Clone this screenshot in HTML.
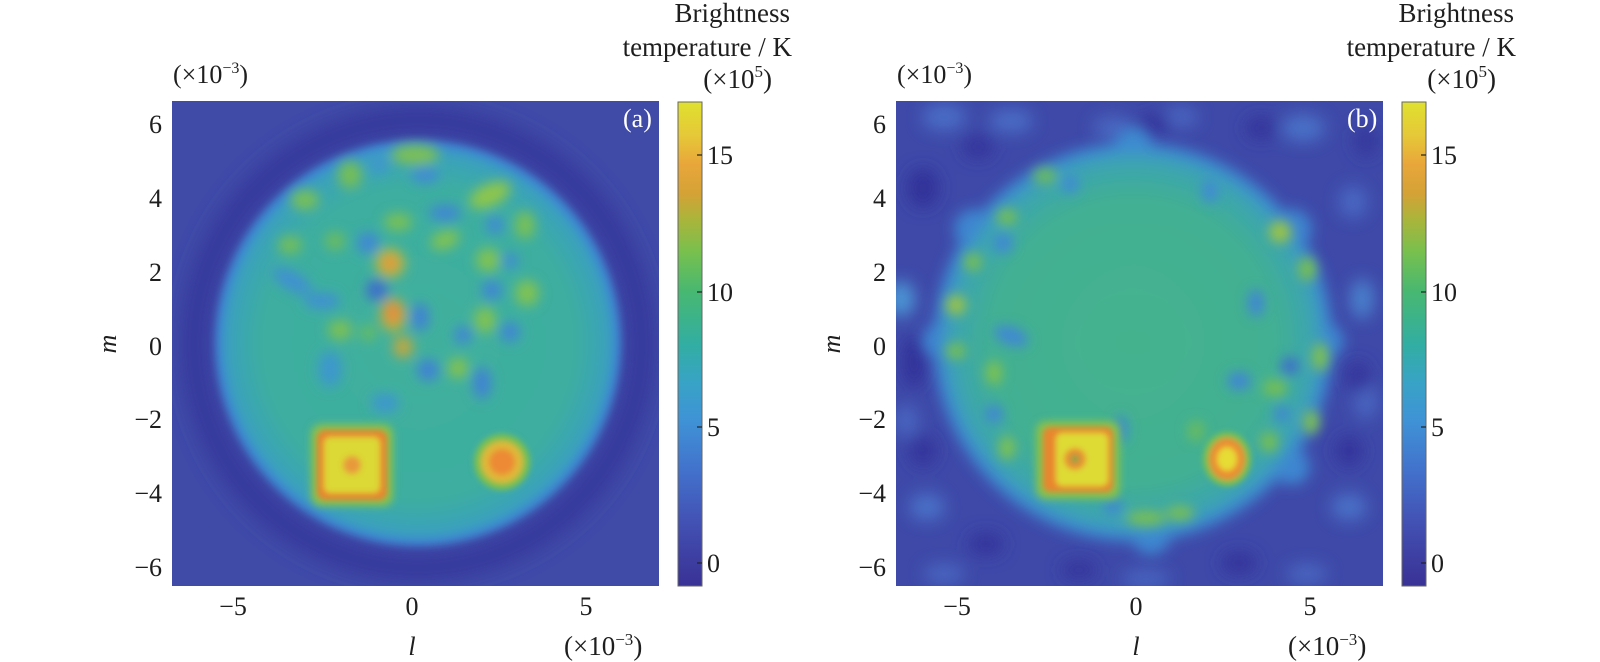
<!DOCTYPE html>
<html><head><meta charset="utf-8"><style>
html,body{margin:0;padding:0;background:#fff;}
svg{display:block;}
text{font-family:"Liberation Serif","Times New Roman",serif;fill:#1e1e1e;}
</style></head><body>
<svg width="1600" height="662" viewBox="0 0 1600 662" xmlns="http://www.w3.org/2000/svg">
<defs>
 <filter id="b3" filterUnits="userSpaceOnUse" x="-150" y="-150" width="800" height="800"><feGaussianBlur stdDeviation="3"/></filter>
 <filter id="b4" filterUnits="userSpaceOnUse" x="-150" y="-150" width="800" height="800"><feGaussianBlur stdDeviation="4"/></filter>
 <filter id="b6" filterUnits="userSpaceOnUse" x="-150" y="-150" width="800" height="800"><feGaussianBlur stdDeviation="6"/></filter>
 <filter id="b7" filterUnits="userSpaceOnUse" x="-150" y="-150" width="800" height="800"><feGaussianBlur stdDeviation="7"/></filter>
 <filter id="b8" filterUnits="userSpaceOnUse" x="-150" y="-150" width="800" height="800"><feGaussianBlur stdDeviation="8"/></filter>
 <filter id="b10" filterUnits="userSpaceOnUse" x="-150" y="-150" width="800" height="800"><feGaussianBlur stdDeviation="10"/></filter>
 <clipPath id="clipImg"><rect x="0" y="0" width="487" height="485"/></clipPath>
 <linearGradient id="cb" x1="0" y1="0" x2="0" y2="1">
  <stop offset="0" stop-color="#dfe12f"/>
  <stop offset="0.07" stop-color="#e6c838"/>
  <stop offset="0.13" stop-color="#e8a63a"/>
  <stop offset="0.19" stop-color="#d4a236"/>
  <stop offset="0.24" stop-color="#acb43a"/>
  <stop offset="0.31" stop-color="#78c04e"/>
  <stop offset="0.39" stop-color="#48b870"/>
  <stop offset="0.50" stop-color="#32aea2"/>
  <stop offset="0.58" stop-color="#38a3c6"/>
  <stop offset="0.66" stop-color="#3f92d6"/>
  <stop offset="0.76" stop-color="#4272cc"/>
  <stop offset="0.86" stop-color="#4354b6"/>
  <stop offset="0.94" stop-color="#3e3fa2"/>
  <stop offset="1" stop-color="#393296"/>
 </linearGradient>
 <radialGradient id="diskA" cx="0.5" cy="0.5" r="0.5">
  <stop offset="0" stop-color="#40b09c"/>
  <stop offset="0.8" stop-color="#3daea0"/>
  <stop offset="0.93" stop-color="#3aa5b4"/>
  <stop offset="1" stop-color="#3a9cc4"/>
 </radialGradient>
 <radialGradient id="diskB" cx="0.5" cy="0.5" r="0.5">
  <stop offset="0" stop-color="#45b28e"/>
  <stop offset="0.75" stop-color="#42b092"/>
  <stop offset="0.92" stop-color="#3ca6ac"/>
  <stop offset="1" stop-color="#3b9cc2"/>
 </radialGradient>
</defs>
<rect width="1600" height="662" fill="#fff"/>

<!-- ================= PANEL A ================= -->
<g transform="translate(172,101)">
 <g clip-path="url(#clipImg)">
  <rect x="0" y="0" width="487" height="485" fill="#404ba8"/>
  <g filter="url(#b10)">
   <circle cx="246" cy="243" r="224" fill="none" stroke="#36379b" stroke-width="26"/>
  </g>
  <g filter="url(#b4)">
   <circle cx="246" cy="242" r="203" fill="#3c86d0"/>
   <circle cx="246" cy="242" r="195" fill="url(#diskA)"/>
  </g>
  <g filter="url(#b6)">
   <ellipse cx="243" cy="54" rx="24" ry="10" fill="#7dc054"/>
   <ellipse cx="178" cy="74" rx="12" ry="14" fill="#74be58"/>
   <ellipse cx="133" cy="99" rx="14" ry="10" fill="#78c056"/>
   <ellipse cx="318" cy="94" rx="22" ry="11" fill="#8ec64c" transform="rotate(-25 318 94)"/>
   <ellipse cx="353" cy="124" rx="10" ry="14" fill="#78c056"/>
   <ellipse cx="226" cy="121" rx="14" ry="9" fill="#78c056"/>
   <ellipse cx="273" cy="139" rx="15" ry="9" fill="#80c252" transform="rotate(-20 273 139)"/>
   <ellipse cx="118" cy="144" rx="12" ry="9" fill="#72be5a"/>
   <ellipse cx="163" cy="140" rx="10" ry="9" fill="#6cbc5e"/>
   <ellipse cx="316" cy="159" rx="12" ry="12" fill="#80c252"/>
   <ellipse cx="355" cy="192" rx="12" ry="13" fill="#80c252"/>
   <ellipse cx="168" cy="229" rx="12" ry="10" fill="#7cc054"/>
   <ellipse cx="313" cy="219" rx="11" ry="13" fill="#80c252"/>
   <ellipse cx="286" cy="267" rx="10" ry="10" fill="#84c250"/>
   <ellipse cx="196" cy="232" rx="8" ry="8" fill="#68bc60"/>
   <circle cx="218" cy="162" r="15" fill="#a6c040"/>
   <circle cx="218" cy="162" r="10" fill="#e09a3c"/>
   <ellipse cx="221" cy="214" rx="13" ry="17" fill="#b0b83c"/>
   <ellipse cx="221" cy="212" rx="9" ry="12" fill="#e58c3c"/>
   <ellipse cx="231" cy="246" rx="10" ry="11" fill="#c0a840"/>
   <circle cx="196" cy="142" r="11" fill="#3f88d4"/>
   <circle cx="205" cy="189" r="11" fill="#3c6ecb"/>
   <ellipse cx="248" cy="216" rx="9" ry="14" fill="#3f82d4"/>
   <circle cx="256" cy="269" r="11" fill="#3f82d4"/>
   <ellipse cx="310" cy="282" rx="9" ry="16" fill="#3f82d4"/>
   <circle cx="320" cy="189" r="10" fill="#3f86d4"/>
   <circle cx="291" cy="234" r="9" fill="#3f86d4"/>
   <ellipse cx="273" cy="112" rx="16" ry="8" fill="#3f86d4"/>
   <ellipse cx="253" cy="74" rx="14" ry="8" fill="#3f8ad4"/>
   <ellipse cx="207" cy="63" rx="9" ry="10" fill="#3f97cc"/>
   <ellipse cx="120" cy="180" rx="22" ry="9" fill="#3f90d2" transform="rotate(30 120 180)"/>
   <ellipse cx="150" cy="200" rx="18" ry="8" fill="#3f90d2"/>
   <ellipse cx="158" cy="268" rx="12" ry="18" fill="#3e98cc"/>
   <ellipse cx="213" cy="302" rx="14" ry="10" fill="#3e98cc"/>
   <circle cx="338" cy="231" r="10" fill="#3f86d4"/>
   <circle cx="338" cy="160" r="8" fill="#3f8ad4"/>
   <circle cx="323" cy="124" r="9" fill="#3f8ad4"/>
  </g>
  <g filter="url(#b4)">
   <rect x="139" y="323" width="82" height="82" rx="10" fill="#86c24e"/>
  </g>
  <g filter="url(#b3)">
   <rect x="145" y="329" width="70" height="70" rx="8" fill="#e8842e"/>
   <rect x="152" y="336" width="56" height="56" rx="6" fill="#dcd835"/>
   <circle cx="180" cy="364" r="9" fill="#e89a3a"/>
  </g>
  <g filter="url(#b3)">
   <circle cx="330" cy="361" r="28" fill="#7cc050"/>
   <circle cx="330" cy="361" r="21" fill="#e0b838"/>
   <circle cx="330" cy="361" r="13" fill="#ec8a34"/>
  </g>
 </g>
 <text x="451" y="26" font-size="26" style="fill:#fff">(a)</text>
</g>

<!-- axis labels A -->
<text x="173" y="83" font-size="26">(×10<tspan dy="-10" font-size="16">−3</tspan><tspan dy="10">)</tspan></text>
<g font-size="26" text-anchor="end">
 <text x="162" y="133">6</text>
 <text x="162" y="207">4</text>
 <text x="162" y="281">2</text>
 <text x="162" y="355">0</text>
 <text x="162" y="428">−2</text>
 <text x="162" y="502">−4</text>
 <text x="162" y="576">−6</text>
</g>
<g font-size="26" text-anchor="middle">
 <text x="233" y="615">−5</text>
 <text x="412" y="615">0</text>
 <text x="586" y="615">5</text>
</g>
<text x="412" y="655" font-size="26" font-style="italic" text-anchor="middle">l</text>
<text x="564" y="655" font-size="27">(×10<tspan dy="-10" font-size="17">−3</tspan><tspan dy="10">)</tspan></text>
<text transform="translate(116,344) rotate(-90)" font-size="26" font-style="italic" text-anchor="middle">m</text>

<!-- colorbar A -->
<rect x="678" y="102" width="24" height="484" fill="url(#cb)" stroke="#666" stroke-width="1"/>
<g stroke="#222" stroke-width="1.2">
 <line x1="697" y1="155" x2="702" y2="155"/>
 <line x1="697" y1="292" x2="702" y2="292"/>
 <line x1="697" y1="427" x2="702" y2="427"/>
 <line x1="697" y1="563" x2="702" y2="563"/>
</g>
<g font-size="26">
 <text x="707" y="164">15</text>
 <text x="707" y="301">10</text>
 <text x="707" y="436">5</text>
 <text x="707" y="572">0</text>
</g>
<g font-size="27" text-anchor="end">
 <text x="790" y="22">Brightness</text>
 <text x="792" y="56">temperature / K</text>
 <text x="772" y="88">(×10<tspan dy="-11" font-size="17">5</tspan><tspan dy="11">)</tspan></text>
</g>

<!-- ================= PANEL B ================= -->
<g transform="translate(896,101)">
 <g clip-path="url(#clipImg)">
  <rect x="0" y="0" width="487" height="485" fill="#3e49a8"/>
  <g filter="url(#b8)">
   <ellipse cx="5" cy="198" rx="14" ry="18" fill="#4c94d4"/>
   <ellipse cx="48" cy="16" rx="22" ry="14" fill="#496cc4"/>
   <ellipse cx="115" cy="20" rx="22" ry="12" fill="#496cc4"/>
   <ellipse cx="217" cy="27" rx="20" ry="12" fill="#4866c0"/>
   <ellipse cx="284" cy="16" rx="18" ry="10" fill="#4866c0"/>
   <ellipse cx="407" cy="27" rx="22" ry="14" fill="#4a70c6"/>
   <ellipse cx="466" cy="198" rx="12" ry="20" fill="#4a80cc"/>
   <ellipse cx="457" cy="101" rx="14" ry="16" fill="#4868c2"/>
   <ellipse cx="31" cy="406" rx="18" ry="14" fill="#4a70c6"/>
   <ellipse cx="453" cy="406" rx="18" ry="14" fill="#4a70c6"/>
   <ellipse cx="48" cy="473" rx="20" ry="10" fill="#4866c0"/>
   <ellipse cx="411" cy="473" rx="20" ry="10" fill="#4866c0"/>
   <ellipse cx="250" cy="478" rx="24" ry="10" fill="#4664be"/>
   <ellipse cx="470" cy="300" rx="12" ry="18" fill="#4866c0"/>
   <ellipse cx="10" cy="320" rx="12" ry="16" fill="#4866c0"/>
   <ellipse cx="27" cy="87" rx="16" ry="20" fill="#33339a"/>
   <ellipse cx="18" cy="261" rx="12" ry="26" fill="#33339a"/>
   <ellipse cx="82" cy="46" rx="16" ry="12" fill="#34359c"/>
   <ellipse cx="259" cy="23" rx="16" ry="10" fill="#34359c"/>
   <ellipse cx="365" cy="27" rx="16" ry="12" fill="#34359c"/>
   <ellipse cx="27" cy="350" rx="14" ry="16" fill="#34359c"/>
   <ellipse cx="453" cy="350" rx="14" ry="16" fill="#34359c"/>
   <ellipse cx="90" cy="443" rx="18" ry="12" fill="#34359c"/>
   <ellipse cx="343" cy="462" rx="18" ry="12" fill="#34359c"/>
   <ellipse cx="183" cy="469" rx="18" ry="10" fill="#34359c"/>
   <ellipse cx="462" cy="276" rx="12" ry="16" fill="#34359c"/>
   <ellipse cx="470" cy="40" rx="12" ry="16" fill="#35379c"/>
  </g>
  <!-- disk B (soft scalloped) -->
  <g filter="url(#b7)">
   <circle cx="237" cy="241" r="200" fill="#3d86d0"/>
   <circle cx="237" cy="46" r="20" fill="#3d8ad0"/>
   <circle cx="78" cy="128" r="20" fill="#3d86d0"/>
   <circle cx="396" cy="128" r="20" fill="#3d86d0"/>
   <circle cx="430" cy="240" r="18" fill="#3d86d0"/>
   <circle cx="44" cy="240" r="18" fill="#3d86d0"/>
   <circle cx="396" cy="366" r="18" fill="#3d86d0"/>
   <circle cx="255" cy="434" r="20" fill="#3d86d0"/>
   <circle cx="237" cy="241" r="190" fill="url(#diskB)"/>
  </g>
  <g filter="url(#b6)">
   <circle cx="60" cy="204" r="10" fill="#9cc444"/>
   <circle cx="384" cy="131" r="11" fill="#9cc444"/>
   <ellipse cx="411" cy="168" rx="9" ry="12" fill="#78c050"/>
   <ellipse cx="424" cy="256" rx="8" ry="14" fill="#80c24e"/>
   <ellipse cx="415" cy="321" rx="8" ry="12" fill="#80c24e"/>
   <ellipse cx="379" cy="287" rx="12" ry="8" fill="#78c050"/>
   <ellipse cx="111" cy="116" rx="10" ry="8" fill="#78c050"/>
   <circle cx="77" cy="161" r="9" fill="#78c050"/>
   <ellipse cx="60" cy="250" rx="10" ry="8" fill="#78c050"/>
   <ellipse cx="98" cy="272" rx="8" ry="12" fill="#80c24e"/>
   <ellipse cx="111" cy="347" rx="8" ry="12" fill="#80c24e"/>
   <ellipse cx="250" cy="417" rx="20" ry="7" fill="#7cc050"/>
   <ellipse cx="284" cy="412" rx="14" ry="7" fill="#7cc050"/>
   <ellipse cx="149" cy="75" rx="12" ry="8" fill="#6cbc5c"/>
   <ellipse cx="373" cy="341" rx="9" ry="10" fill="#78c050"/>
   <ellipse cx="300" cy="330" rx="8" ry="10" fill="#6cbc5c"/>
   <circle cx="107" cy="142" r="10" fill="#3f88d4"/>
   <ellipse cx="115" cy="235" rx="18" ry="9" fill="#3f88d4" transform="rotate(20 115 235)"/>
   <circle cx="174" cy="83" r="9" fill="#3f8ad4"/>
   <ellipse cx="314" cy="90" rx="8" ry="12" fill="#3f8ad4"/>
   <ellipse cx="343" cy="280" rx="12" ry="9" fill="#3f86d4"/>
   <circle cx="394" cy="265" r="9" fill="#3c6ecb"/>
   <ellipse cx="360" cy="202" rx="8" ry="14" fill="#3f86d4"/>
   <circle cx="98" cy="313" r="9" fill="#3f86d4"/>
   <ellipse cx="225" cy="328" rx="6" ry="14" fill="#3f86d4"/>
   <ellipse cx="217" cy="406" rx="10" ry="7" fill="#3f86d4"/>
   <circle cx="386" cy="313" r="8" fill="#3f86d4"/>
  </g>
  <g filter="url(#b4)">
   <rect x="140" y="320" width="84" height="78" rx="10" fill="#86c24e"/>
  </g>
  <g filter="url(#b3)">
   <rect x="147" y="326" width="70" height="65" rx="7" fill="#e8862e"/>
   <rect x="160" y="332" width="52" height="53" rx="6" fill="#dedb35"/>
   <circle cx="179" cy="358" r="11" fill="#e89032"/>
   <circle cx="179" cy="358" r="4" fill="#6fa848"/>
  </g>
  <g filter="url(#b3)">
   <ellipse cx="331" cy="358" rx="24" ry="27" fill="#7cc050"/>
   <ellipse cx="331" cy="358" rx="18" ry="21" fill="#ec8c30"/>
   <ellipse cx="331" cy="358" rx="10" ry="12" fill="#e6dc35"/>
  </g>
 </g>
 <text x="451" y="26" font-size="26" style="fill:#fff">(b)</text>
</g>

<!-- axis labels B -->
<text x="897" y="83" font-size="26">(×10<tspan dy="-10" font-size="16">−3</tspan><tspan dy="10">)</tspan></text>
<g font-size="26" text-anchor="end">
 <text x="886" y="133">6</text>
 <text x="886" y="207">4</text>
 <text x="886" y="281">2</text>
 <text x="886" y="355">0</text>
 <text x="886" y="428">−2</text>
 <text x="886" y="502">−4</text>
 <text x="886" y="576">−6</text>
</g>
<g font-size="26" text-anchor="middle">
 <text x="957" y="615">−5</text>
 <text x="1136" y="615">0</text>
 <text x="1310" y="615">5</text>
</g>
<text x="1136" y="655" font-size="26" font-style="italic" text-anchor="middle">l</text>
<text x="1288" y="655" font-size="27">(×10<tspan dy="-10" font-size="17">−3</tspan><tspan dy="10">)</tspan></text>
<text transform="translate(840,344) rotate(-90)" font-size="26" font-style="italic" text-anchor="middle">m</text>

<!-- colorbar B -->
<rect x="1402" y="102" width="24" height="484" fill="url(#cb)" stroke="#666" stroke-width="1"/>
<g stroke="#222" stroke-width="1.2">
 <line x1="1421" y1="155" x2="1426" y2="155"/>
 <line x1="1421" y1="292" x2="1426" y2="292"/>
 <line x1="1421" y1="427" x2="1426" y2="427"/>
 <line x1="1421" y1="563" x2="1426" y2="563"/>
</g>
<g font-size="26">
 <text x="1431" y="164">15</text>
 <text x="1431" y="301">10</text>
 <text x="1431" y="436">5</text>
 <text x="1431" y="572">0</text>
</g>
<g font-size="27" text-anchor="end">
 <text x="1514" y="22">Brightness</text>
 <text x="1516" y="56">temperature / K</text>
 <text x="1496" y="88">(×10<tspan dy="-11" font-size="17">5</tspan><tspan dy="11">)</tspan></text>
</g>
</svg>
</body></html>
